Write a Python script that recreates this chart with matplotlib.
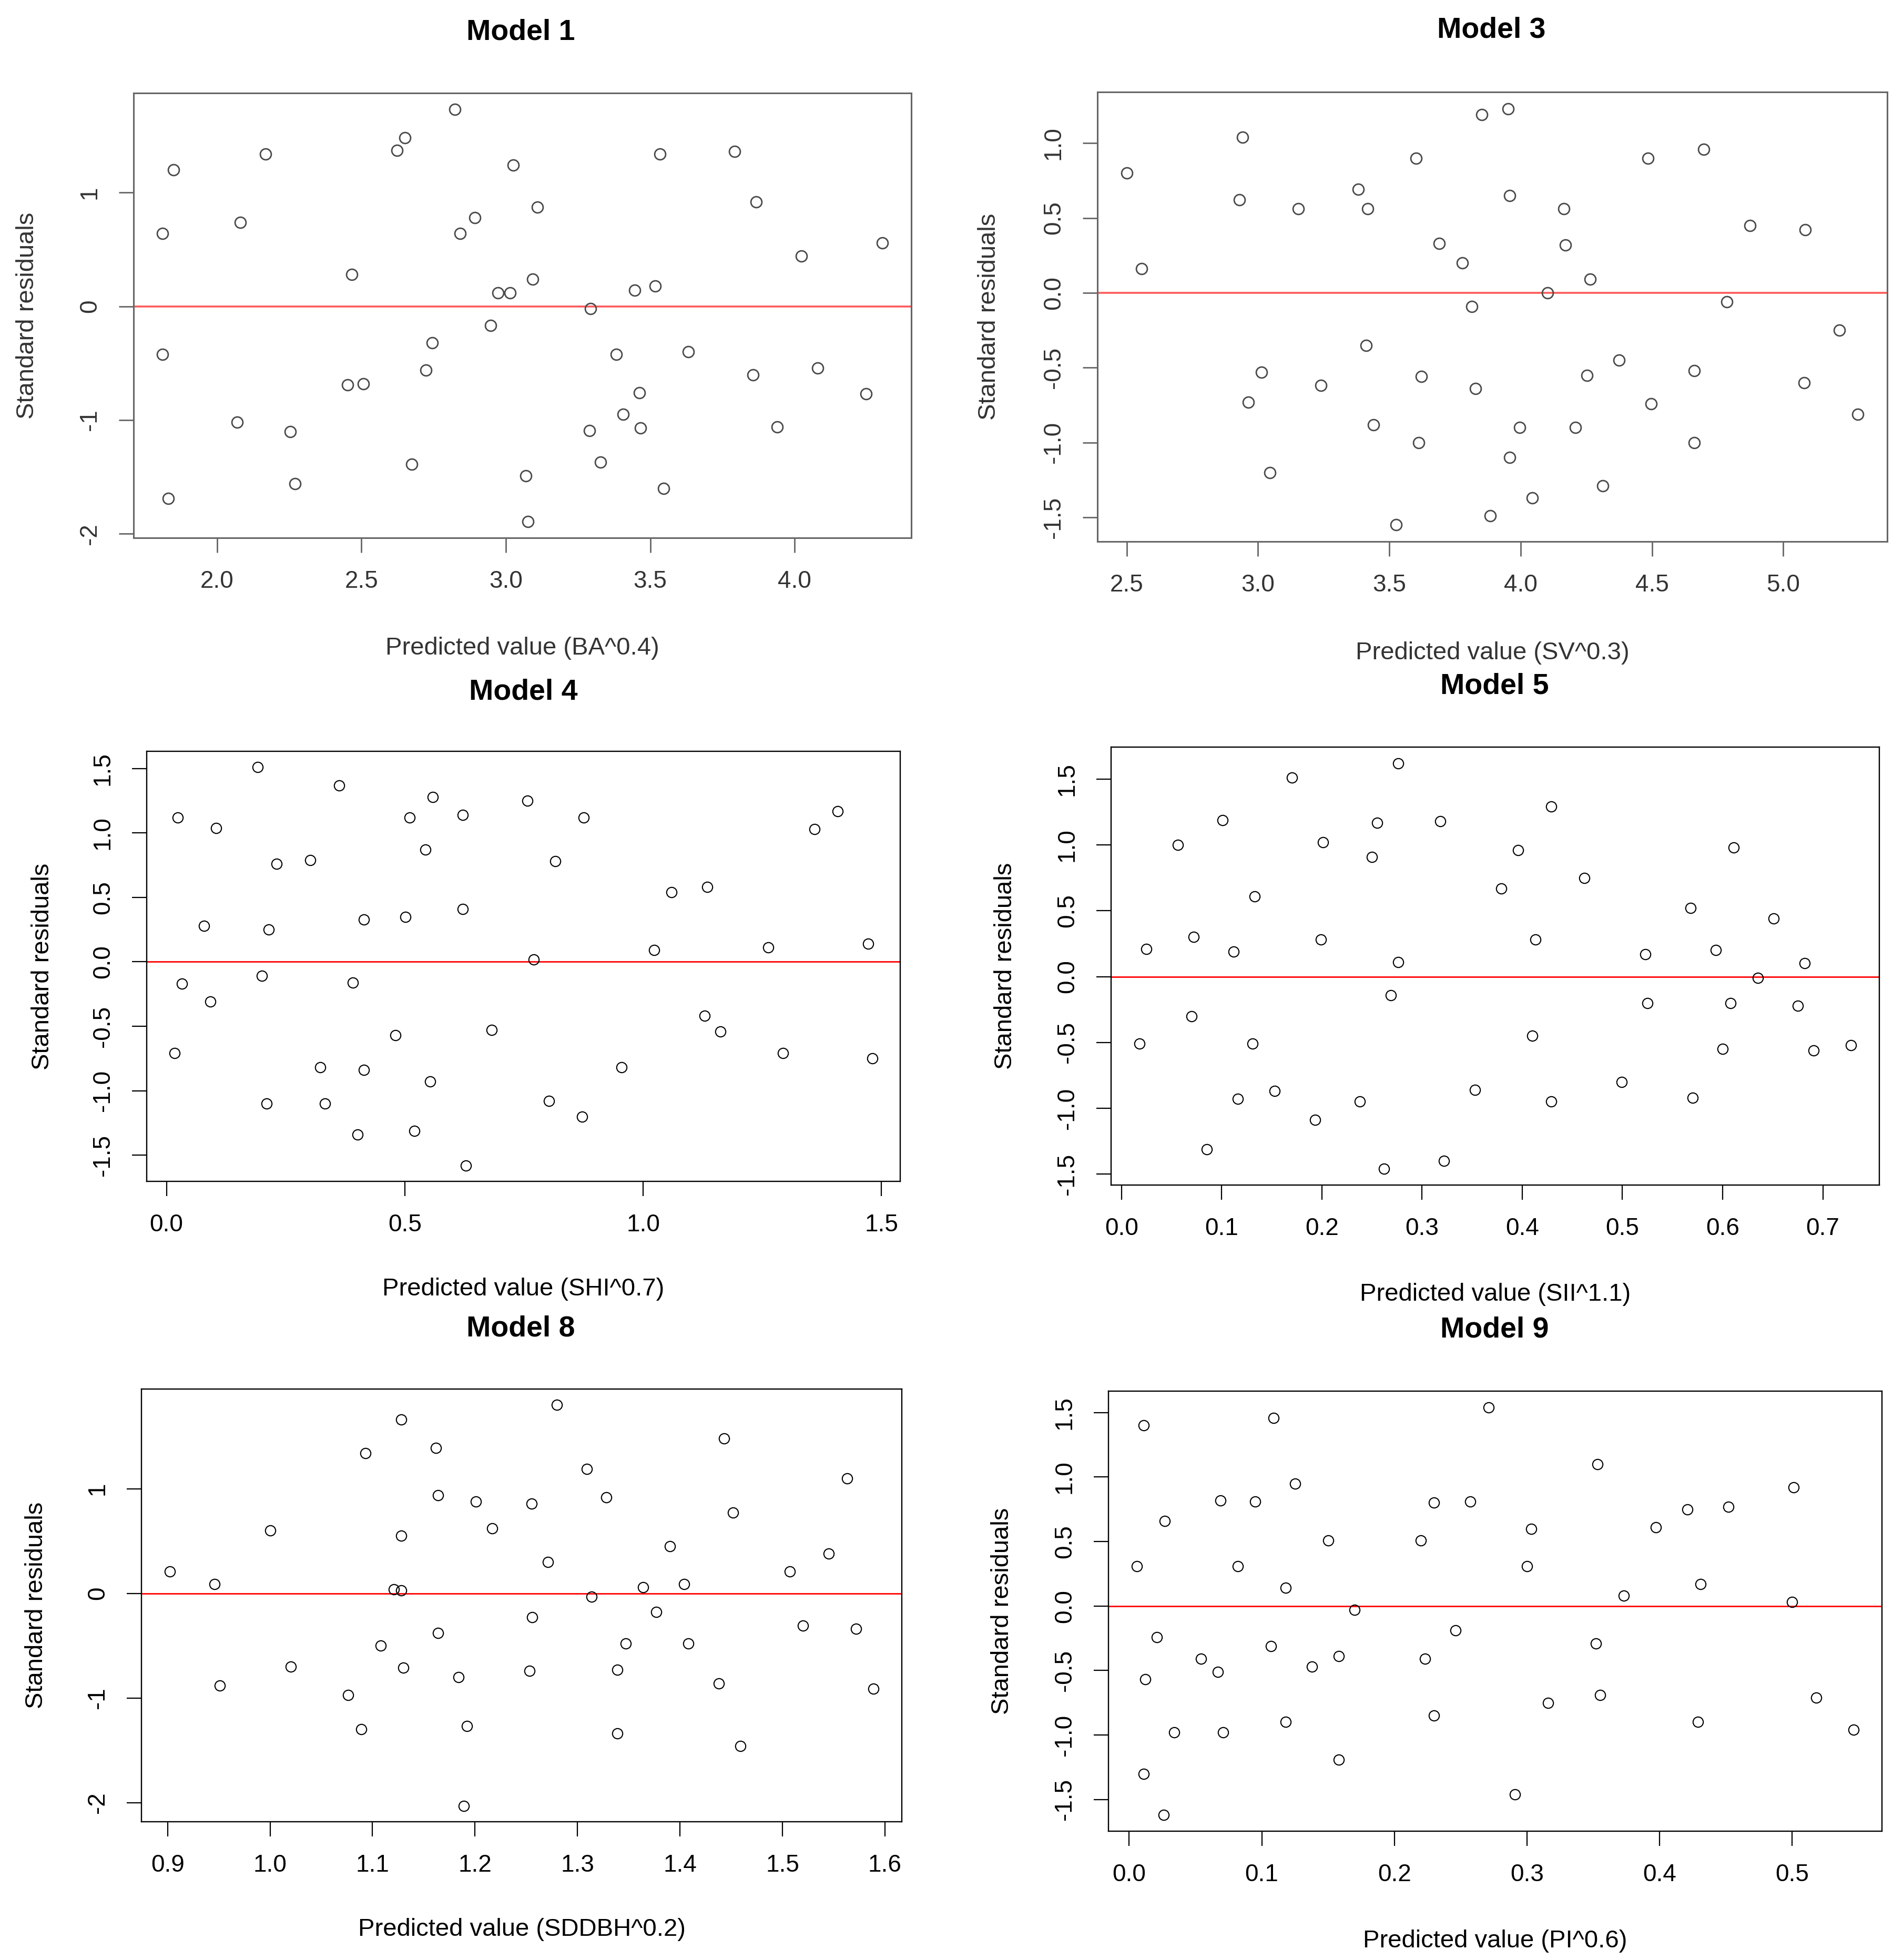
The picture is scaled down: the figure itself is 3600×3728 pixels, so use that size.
import numpy as np
import matplotlib.pyplot as plt

plt.rcParams['font.family'] = ['Liberation Sans', 'DejaVu Sans']
plt.rcParams['axes.unicode_minus'] = False

# Model 1 - predicted BA^0.4 vs standard residuals
m1_x = [1.811, 1.849, 1.811, 1.832, 2.168, 2.080, 2.069, 2.254, 2.271, 2.466, 2.453, 2.506,
        2.623, 2.651, 2.674, 2.724, 2.745, 2.823, 2.842, 2.892, 2.947, 2.972, 3.014, 3.026,
        3.110, 3.093, 3.070, 3.077, 3.293, 3.289, 3.328, 3.383, 3.406, 3.446, 3.463, 3.467,
        3.517, 3.534, 3.547, 3.631, 3.792, 3.866, 3.855, 3.939, 4.023, 4.080, 4.248, 4.304]
m1_y = [0.64, 1.20, -0.42, -1.69, 1.34, 0.74, -1.02, -1.10, -1.56, 0.28, -0.69, -0.68,
        1.37, 1.48, -1.39, -0.56, -0.32, 1.73, 0.64, 0.78, -0.17, 0.12, 0.12, 1.24,
        0.87, 0.24, -1.49, -1.89, -0.02, -1.09, -1.37, -0.42, -0.95, 0.14, -0.76, -1.07,
        0.18, 1.34, -1.60, -0.40, 1.36, 0.92, -0.60, -1.06, 0.44, -0.54, -0.77, 0.56]

# Model 3 - SV^0.3
m3_x = [2.500, 2.556, 2.942, 2.930, 2.963, 3.013, 3.046, 3.154, 3.240, 3.381, 3.418, 3.411,
        3.439, 3.525, 3.601, 3.689, 3.622, 3.612, 3.777, 3.814, 3.828, 3.851, 3.883, 3.952,
        3.959, 3.959, 3.996, 4.045, 4.103, 4.165, 4.170, 4.209, 4.265, 4.253, 4.313, 4.375,
        4.484, 4.496, 4.660, 4.660, 4.697, 4.785, 4.873, 5.083, 5.079, 5.213, 5.284]
m3_y = [0.80, 0.16, 1.04, 0.62, -0.73, -0.53, -1.20, 0.56, -0.62, 0.69, 0.56, -0.35,
        -0.88, -1.55, 0.90, 0.33, -0.56, -1.00, 0.20, -0.09, -0.64, 1.19, -1.49, 1.23,
        0.65, -1.10, -0.90, -1.37, 0.00, 0.56, 0.32, -0.90, 0.09, -0.55, -1.29, -0.45,
        0.90, -0.74, -0.52, -1.00, 0.96, -0.06, 0.45, 0.42, -0.60, -0.25, -0.81]

# Model 4 - SHI^0.7
m4_x = [0.023, 0.017, 0.032, 0.079, 0.092, 0.104, 0.191, 0.200, 0.214, 0.210, 0.231, 0.302,
        0.322, 0.333, 0.362, 0.391, 0.401, 0.414, 0.414, 0.480, 0.501, 0.510, 0.520, 0.543,
        0.553, 0.559, 0.622, 0.622, 0.628, 0.682, 0.757, 0.770, 0.803, 0.816, 0.872, 0.875,
        0.955, 1.023, 1.060, 1.129, 1.135, 1.162, 1.263, 1.293, 1.360, 1.408, 1.472, 1.481]
m4_y = [1.12, -0.71, -0.17, 0.28, -0.31, 1.04, 1.51, -0.11, 0.25, -1.10, 0.76, 0.79,
        -0.82, -1.10, 1.37, -0.16, -1.34, 0.33, -0.84, -0.57, 0.35, 1.12, -1.31, 0.87,
        -0.93, 1.28, 1.14, 0.41, -1.58, -0.53, 1.25, 0.02, -1.08, 0.78, -1.20, 1.12,
        -0.82, 0.09, 0.54, -0.42, 0.58, -0.54, 0.11, -0.71, 1.03, 1.17, 0.14, -0.75]

# Model 5 - SII^1.1
m5_x = [0.018, 0.025, 0.056, 0.070, 0.072, 0.085, 0.101, 0.112, 0.116, 0.131, 0.133, 0.153,
        0.170, 0.193, 0.199, 0.201, 0.238, 0.250, 0.255, 0.262, 0.269, 0.276, 0.276, 0.318,
        0.322, 0.353, 0.379, 0.396, 0.410, 0.413, 0.429, 0.429, 0.462, 0.499, 0.523, 0.525,
        0.568, 0.570, 0.593, 0.600, 0.608, 0.611, 0.635, 0.651, 0.675, 0.682, 0.691, 0.728]
m5_y = [-0.51, 0.21, 1.00, -0.30, 0.30, -1.31, 1.19, 0.19, -0.93, -0.51, 0.61, -0.87,
        1.51, -1.09, 0.28, 1.02, -0.95, 0.91, 1.17, -1.46, -0.14, 0.11, 1.62, 1.18,
        -1.40, -0.86, 0.67, 0.96, -0.45, 0.28, 1.29, -0.95, 0.75, -0.80, 0.17, -0.20,
        0.52, -0.92, 0.20, -0.55, -0.20, 0.98, -0.01, 0.44, -0.22, 0.10, -0.56, -0.52]

# Model 8 - SDDBH^0.2
m8_x = [0.902, 0.946, 0.951, 1.000, 1.020, 1.076, 1.089, 1.093, 1.108, 1.121, 1.128, 1.128,
        1.128, 1.130, 1.162, 1.164, 1.164, 1.184, 1.192, 1.189, 1.201, 1.217, 1.253, 1.255,
        1.256, 1.271, 1.280, 1.309, 1.314, 1.328, 1.339, 1.339, 1.347, 1.364, 1.377, 1.390,
        1.404, 1.408, 1.438, 1.443, 1.452, 1.459, 1.507, 1.520, 1.545, 1.563, 1.572, 1.589]
m8_y = [0.21, 0.09, -0.88, 0.60, -0.70, -0.97, -1.30, 1.34, -0.50, 0.04, 0.03, 1.66,
        0.55, -0.71, 1.39, 0.94, -0.38, -0.80, -1.27, -2.03, 0.88, 0.62, -0.74, 0.86,
        -0.23, 0.30, 1.80, 1.19, -0.03, 0.92, -0.73, -1.34, -0.48, 0.06, -0.18, 0.45,
        0.09, -0.48, -0.86, 1.48, 0.77, -1.46, 0.21, -0.31, 0.38, 1.10, -0.34, -0.91]

# Model 9 - PI^0.6
m9_x = [0.006, 0.011, 0.011, 0.012, 0.021, 0.026, 0.027, 0.034, 0.054, 0.067, 0.069, 0.071,
        0.082, 0.095, 0.107, 0.109, 0.118, 0.118, 0.125, 0.138, 0.150, 0.158, 0.158, 0.170,
        0.220, 0.223, 0.230, 0.230, 0.246, 0.257, 0.271, 0.291, 0.300, 0.303, 0.316, 0.352,
        0.353, 0.355, 0.373, 0.397, 0.421, 0.429, 0.431, 0.452, 0.500, 0.501, 0.518, 0.546]
m9_y = [0.31, 1.40, -1.30, -0.57, -0.24, -1.62, 0.66, -0.98, -0.41, -0.51, 0.82, -0.98,
        0.31, 0.81, -0.31, 1.46, 0.14, -0.90, 0.95, -0.47, 0.51, -0.39, -1.19, -0.03,
        0.51, -0.41, 0.80, -0.85, -0.19, 0.81, 1.54, -1.46, 0.31, 0.60, -0.75, -0.29,
        1.10, -0.69, 0.08, 0.61, 0.75, -0.90, 0.17, 0.77, 0.03, 0.92, -0.71, -0.96]

titles = ["Model 1", "Model 3", "Model 4", "Model 5", "Model 8", "Model 9"]
xlabels = ["Predicted value (BA^0.4)", "Predicted value (SV^0.3)", "Predicted value (SHI^0.7)",
           "Predicted value (SII^1.1)", "Predicted value (SDDBH^0.2)", "Predicted value (PI^0.6)"]
xticks = [[2.0, 2.5, 3.0, 3.5, 4.0],
          [2.5, 3.0, 3.5, 4.0, 4.5, 5.0],
          [0.0, 0.5, 1.0, 1.5],
          [0.0, 0.1, 0.2, 0.3, 0.4, 0.5, 0.6, 0.7],
          [0.9, 1.0, 1.1, 1.2, 1.3, 1.4, 1.5, 1.6],
          [0.0, 0.1, 0.2, 0.3, 0.4, 0.5]]
yticks = [[-2, -1, 0, 1],
          [-1.5, -1.0, -0.5, 0.0, 0.5, 1.0],
          [-1.5, -1.0, -0.5, 0.0, 0.5, 1.0, 1.5],
          [-1.5, -1.0, -0.5, 0.0, 0.5, 1.0, 1.5],
          [-2, -1, 0, 1],
          [-1.5, -1.0, -0.5, 0.0, 0.5, 1.0, 1.5]]
ydigits = [0, 1, 1, 1, 0, 1]
data = [(m1_x, m1_y), (m3_x, m3_y), (m4_x, m4_y), (m5_x, m5_y), (m8_x, m8_y), (m9_x, m9_y)]

# pixel layout: axes box (left, right, top, bottom), title/xlabel/ylabel centres
boxes = [(254, 1733, 177, 1023), (2087, 3589, 175, 1030),
         (279, 1712, 1429, 2247), (2113, 3574, 1421, 2254),
         (269, 1715, 2642, 3465), (2108, 3579, 2646, 3483)]
title_pos = [(990, 62), (2836, 57), (995, 1316), (2842, 1306), (990, 2528), (2842, 2530)]
xlab_y = [1233, 1242, 2452, 2462, 3670, 3692]
ylab_x = [52, 1881, 81, 1912, 69, 1906]

W, H = 3600, 3728
fig = plt.figure(figsize=(W / 100, H / 100), dpi=100)

for i in range(6):
    soft = i < 2  # first two panels are greyish, blurred scans
    txt = '#333333' if soft else 'black'
    frame = '#666666' if soft else 'black'
    pt = '#4a4a4a' if soft else 'black'
    red = '#ff5a5a' if soft else '#ff0000'

    l, r, t, b = boxes[i]
    ax = fig.add_axes([l / W, 1 - b / H, (r - l) / W, (b - t) / H])
    x, y = data[i]
    ax.plot(x, y, 'o', mfc='none', mec=pt, ms=15 if soft else 14, mew=2.0 if soft else 1.5)
    ax.axhline(0, color=red, lw=2.6 if soft else 2.0, zorder=1)
    ax.margins(0.04)

    ax.set_xticks(xticks[i])
    ax.set_xticklabels([f"{v:.1f}" for v in xticks[i]])
    ax.set_yticks(yticks[i])
    ax.set_yticklabels([f"{v:.{ydigits[i]}f}" for v in yticks[i]], rotation=90, va='center')
    ax.tick_params(direction='out', length=20, width=2.0 if soft else 1.6,
                   color=frame, labelcolor=txt, labelsize=33, pad=24)
    for s in ax.spines.values():
        s.set_color(frame)
        s.set_linewidth(2.2 if soft else 1.7)

    cx = (l + r) / 2
    fig.text(title_pos[i][0] / W, 1 - title_pos[i][1] / H, titles[i], ha='center', va='center',
             fontsize=40, fontweight='bold', color='black')
    fig.text(cx / W, 1 - xlab_y[i] / H, xlabels[i], ha='center', va='center',
             fontsize=34, color=txt)
    fig.text(ylab_x[i] / W, 1 - ((t + b) / 2) / H, "Standard residuals", ha='center', va='center',
             rotation=90, fontsize=34, color=txt)

fig.savefig('out.png', dpi=100, facecolor='white')
